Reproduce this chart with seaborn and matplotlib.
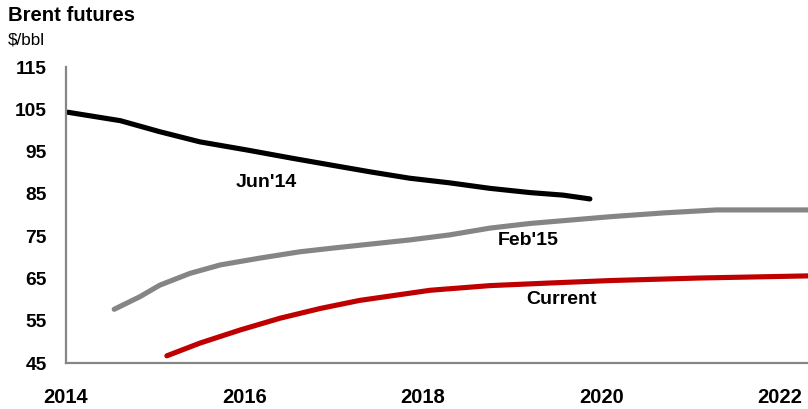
import matplotlib
matplotlib.use("Agg")
import matplotlib.pyplot as plt
from matplotlib import font_manager
import seaborn as sns
import pandas as pd

# ---- data ----
jun14_years = [2014.02, 2014.61, 2015.05, 2015.50, 2016.02, 2016.54, 2017.0, 2017.41,
               2017.85, 2018.30, 2018.75, 2019.20, 2019.57, 2019.87]
jun14_values = [104.3, 102.3, 99.7, 97.3, 95.4, 93.4, 91.7, 90.2,
                88.7, 87.6, 86.3, 85.3, 84.7, 83.8]

feb15_years = [2014.54, 2014.83, 2015.05, 2015.39, 2015.73, 2016.17, 2016.62, 2017.0,
               2017.85, 2018.3, 2018.75, 2019.20, 2020.10, 2020.70, 2021.29, 2022.31]
feb15_values = [57.7, 60.7, 63.4, 66.2, 68.2, 69.8, 71.3, 72.2,
                74.1, 75.3, 76.9, 78.0, 79.6, 80.5, 81.2, 81.2]

current_years = [2015.13, 2015.50, 2015.95, 2016.40, 2016.85, 2017.29, 2018.08, 2018.75,
                 2019.40, 2020.10, 2021.10, 2022.31]
current_values = [46.7, 49.7, 52.8, 55.6, 57.9, 59.8, 62.2, 63.3,
                  63.9, 64.5, 65.1, 65.6]

series_names = ["Jun'14", "Feb'15", "Current"]
series_colors = ["#000000", "#858585", "#C00000"]
x_ticks = [2014, 2016, 2018, 2020, 2022]
y_ticks = [45, 55, 65, 75, 85, 95, 105, 115]

df = pd.concat([
    pd.DataFrame({"year": jun14_years, "price": jun14_values, "series": series_names[0]}),
    pd.DataFrame({"year": feb15_years, "price": feb15_values, "series": series_names[1]}),
    pd.DataFrame({"year": current_years, "price": current_values, "series": series_names[2]}),
])

sns.set_theme(style="white")
names = {f.name for f in font_manager.fontManager.ttflist}
base = "Liberation Sans" if "Liberation Sans" in names else "DejaVu Sans"
plt.rcParams["font.family"] = [base, "DejaVu Sans"]
plt.rcParams["text.color"] = "black"
plt.rcParams["xtick.color"] = "black"
plt.rcParams["ytick.color"] = "black"

fig = plt.figure(figsize=(8.08, 4.09), dpi=100)
ax = fig.add_axes([66 / 808, 46 / 409, 1 - 66 / 808, (363 - 67) / 409])

sns.lineplot(data=df, x="year", y="price", hue="series", palette=series_colors,
             hue_order=series_names, sort=False, estimator=None, legend=False,
             linewidth=3.7, ax=ax, solid_capstyle="round", solid_joinstyle="round")

ax.set_xlim(2014, 2014 + 742 / 89.25)
ax.set_ylim(45, 115)
ax.set_xticks(x_ticks)
ax.set_yticks(y_ticks)
ax.set_xticklabels([str(t) for t in x_ticks], fontweight="bold", fontsize=14.5)
ax.set_yticklabels([str(t) for t in y_ticks], fontweight="bold", fontsize=13.8)
ax.set_xlabel("")
ax.set_ylabel("")

for side in ["top", "right"]:
    ax.spines[side].set_visible(False)
for side in ["left", "bottom"]:
    ax.spines[side].set_color("#868686")
    ax.spines[side].set_linewidth(1.6)
ax.tick_params(axis="both", which="major", direction="out", length=6,
               width=1.4, color="#868686", labelcolor="black")
ax.tick_params(axis="y", pad=8)
ax.tick_params(axis="x", pad=12)
ax.grid(False)

ax.text(2016.24, 87.8, "Jun'14", ha="center", va="center", fontweight="bold", fontsize=14)
ax.text(2019.18, 74.0, "Feb'15", ha="center", va="center", fontweight="bold", fontsize=14)
ax.text(2019.55, 60.1, "Current", ha="center", va="center", fontweight="bold", fontsize=14)

fig.text(8 / 808, 1 - 6 / 409, "Brent futures", ha="left", va="top",
         fontweight="bold", fontsize=14.6)
fig.text(8 / 808, 1 - 33 / 409, "$/bbl", ha="left", va="top", fontsize=12.3)

fig.savefig("out.png", dpi=100)
